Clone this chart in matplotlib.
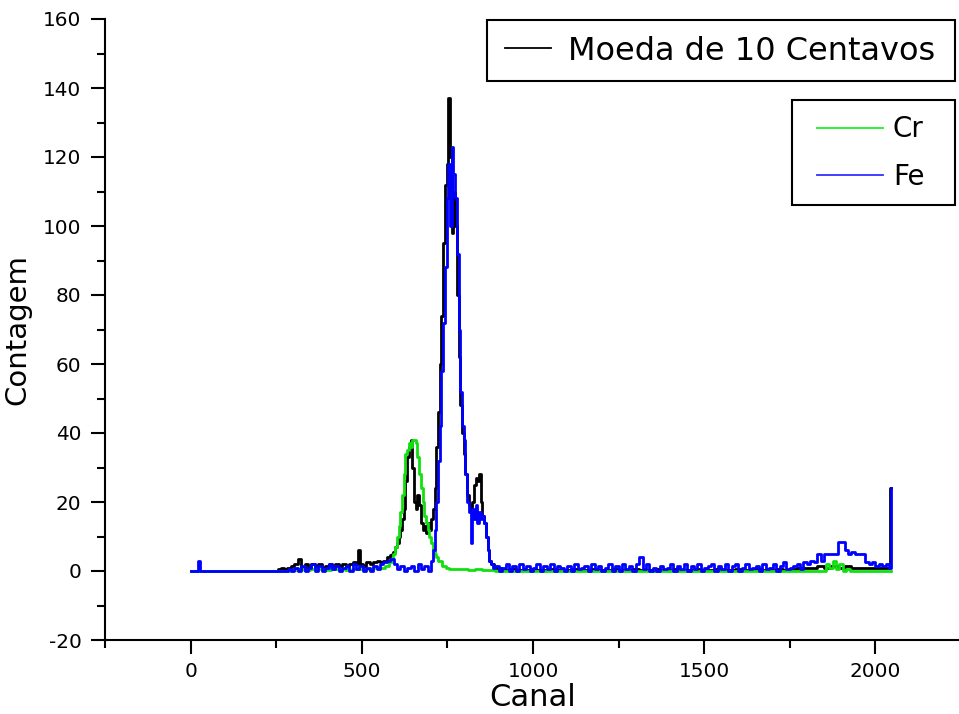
import matplotlib
matplotlib.use("Agg")
import matplotlib.pyplot as plt
from matplotlib.ticker import FixedLocator
from matplotlib.patches import Rectangle

# ---------------- data ----------------
moeda_ch = [
    0, 250, 258, 268, 278, 288, 298, 308, 318, 328,
    338, 348, 358, 368, 378, 388, 398, 408, 418, 428,
    438, 448, 458, 468, 478, 486, 492, 498, 508, 518,
    528, 538, 548, 558, 568, 578, 585, 590, 595, 600,
    605, 610, 615, 620, 625, 630, 635, 640, 645, 650,
    655, 660, 665, 670, 675, 680, 685, 690, 695, 700,
    705, 710, 715, 720, 725, 730, 735, 740, 745, 750,
    755, 760, 765, 770, 775, 780, 785, 790, 795, 800,
    805, 810, 815, 820, 825, 830, 835, 840, 845, 850,
    855, 860, 865, 870, 875, 880, 890, 900, 920, 940,
    960, 980, 1000, 1020, 1040, 1060, 1080, 1100, 1120, 1140,
    1160, 1180, 1200, 1220, 1240, 1260, 1280, 1300, 1320, 1340,
    1360, 1380, 1400, 1420, 1440, 1460, 1480, 1500, 1520, 1540,
    1560, 1580, 1600, 1620, 1640, 1660, 1680, 1700, 1720, 1740,
    1760, 1780, 1800, 1820, 1840, 1860, 1880, 1900, 1920, 1940,
    1960, 1980, 2000, 2020, 2040, 2047,
]
moeda_cnt = [
    0, 0, 0.5, 1, 0.5, 1, 1.5, 2, 3.5, 1,
    2, 1, 2, 1.5, 2, 1, 1.5, 2, 1, 2,
    1.5, 2, 1.5, 2, 2.5, 2, 6, 2, 1.5, 2.5,
    2, 2.5, 3, 2.5, 3, 4, 4.5, 5, 5.5, 7,
    8, 10, 12, 15, 18, 26, 33, 36, 38, 30,
    20, 18, 22, 19, 14, 12, 13, 11, 14, 12,
    15, 18, 24, 36, 46, 60, 74, 95, 112, 118,
    137, 120, 98, 110, 100, 80, 62, 48, 40, 34,
    28, 22, 19, 17, 20, 25, 27, 26, 28, 20,
    16, 14, 10, 6, 3, 2, 1, 1, 0.3, 0.5,
    0.3, 0.3, 0.5, 0.3, 0.3, 0.5, 0.3, 0.3, 0.5, 0.3,
    0.3, 0.5, 0.3, 0.3, 0.5, 0.3, 0.3, 0.5, 0.3, 0.3,
    0.5, 0.3, 0.3, 0.5, 0.3, 0.3, 0.5, 0.3, 0.3, 0.5,
    0.3, 0.3, 0.5, 0.3, 0.3, 0.5, 0.3, 0.3, 0.5, 0.3,
    0.5, 1, 1, 1, 1.5, 1, 1.5, 1, 1.5, 1,
    1, 1, 1, 1, 1, 24,
]

cr_ch = [
    0, 280, 300, 320, 340, 360, 380, 400, 420, 440,
    460, 480, 500, 520, 540, 560, 575, 585, 590, 595,
    600, 605, 610, 615, 620, 625, 630, 635, 640, 645,
    650, 655, 660, 665, 670, 675, 680, 685, 690, 695,
    700, 705, 710, 715, 720, 725, 730, 740, 750, 760,
    780, 800, 820, 840, 860, 880, 900, 1850, 1860, 1870,
    1880, 1890, 1900, 1910, 1920, 1930, 2047,
]
cr_cnt = [
    0, 0, 0.3, 0.5, 0.3, 0.5, 0.5, 0.3, 0.5, 0.5,
    0.3, 0.5, 0.5, 0.5, 1, 1, 1.5, 2.5, 3, 5,
    7, 10, 13, 17, 22, 28, 34, 35, 37, 36,
    38, 38, 37, 33, 28, 24, 20, 16, 14, 12,
    10, 8, 6, 5, 4, 3, 3, 1.5, 1, 0.5,
    0.5, 0.5, 0.3, 0.5, 0.3, 0.3, 0, 0, 2, 1,
    3, 0.5, 2, 0, 0.5, 0, 0,
]

fe_ch = [
    0, 20, 25, 30, 280, 288, 298, 308, 318, 328,
    338, 348, 358, 368, 378, 388, 398, 408, 418, 428,
    438, 448, 458, 468, 478, 488, 498, 508, 518, 528,
    538, 548, 558, 568, 578, 588, 598, 608, 618, 628,
    638, 648, 658, 668, 678, 688, 698, 705, 710, 715,
    720, 725, 730, 735, 740, 745, 750, 755, 760, 765,
    770, 775, 780, 785, 790, 795, 800, 805, 810, 815,
    820, 825, 830, 835, 840, 845, 850, 855, 860, 865,
    870, 875, 880, 885, 895, 905, 915, 925, 935, 945,
    955, 965, 975, 985, 995, 1005, 1015, 1025, 1035, 1045,
    1055, 1065, 1075, 1085, 1095, 1105, 1115, 1125, 1135, 1145,
    1155, 1165, 1175, 1185, 1195, 1205, 1215, 1225, 1235, 1245,
    1255, 1265, 1275, 1285, 1295, 1305, 1315, 1325, 1335, 1345,
    1355, 1365, 1375, 1385, 1395, 1405, 1415, 1425, 1435, 1445,
    1455, 1465, 1475, 1485, 1495, 1505, 1515, 1525, 1535, 1545,
    1555, 1565, 1575, 1585, 1595, 1605, 1615, 1625, 1635, 1645,
    1655, 1665, 1675, 1685, 1695, 1705, 1715, 1725, 1735, 1745,
    1755, 1765, 1775, 1785, 1795, 1805, 1815, 1825, 1835, 1845,
    1855, 1865, 1875, 1885, 1895, 1905, 1915, 1925, 1935, 1945,
    1955, 1965, 1975, 1985, 1995, 2005, 2015, 2025, 2035, 2045,
    2047,
]
fe_cnt = [
    0, 0, 3, 0, 0, 0.5, 0, 1, 0, 1.5,
    0, 1, 2, 0, 1.5, 0, 1, 2, 0.5, 1.5,
    0, 1, 1.5, 0, 2, 0.5, 1.5, 0, 1, 0,
    1.5, 0.5, 2, 2.5, 3, 3.5, 2, 0.5, 1.5, 0,
    1, 1.5, 0, 2, 0.5, 1.5, 0, 3, 6, 12,
    20, 32, 42, 58, 72, 88, 108, 118, 100, 123,
    115, 108, 92, 70, 52, 42, 38, 28, 20, 17,
    8, 18, 15, 19, 14, 17, 15, 16, 14, 10,
    6, 3, 2, 1, 1.5, 0, 1, 2, 0, 1.5,
    0, 2, 0.5, 1.5, 0, 1, 2, 0, 1.5, 0.5,
    2, 0, 1.5, 1, 0, 1.5, 0, 2, 0.5, 1,
    1.5, 0, 2, 0.5, 1.5, 0, 1, 2, 0, 1.5,
    0, 2, 0.5, 1.5, 0, 2, 4, 0.5, 2, 0,
    1, 0, 1.5, 0.5, 1, 2, 0, 1.5, 0.5, 2,
    0, 1.5, 0.5, 2, 0, 1, 1.5, 2, 0, 1.5,
    0.5, 2, 0, 1.5, 2, 0, 1, 2, 0.5, 1,
    1.5, 0, 2, 0.5, 1, 2, 0, 1.5, 2.5, 0.5,
    1, 1.5, 2, 0.5, 2.5, 2, 3, 2.5, 5, 3,
    5, 5, 5, 5, 8.5, 8.5, 6, 5, 5.5, 5,
    5, 5, 2.5, 2, 2.5, 1.5, 2, 1.5, 2, 1,
    24,
]

labels_main = ["Moeda de 10 Centavos"]
labels_elem = ["Cr", "Fe"]
x_major = [0, 500, 1000, 1500, 2000]
x_minor = [-250, 250, 750, 1250, 1750, 2250]
y_major = [-20, 0, 20, 40, 60, 80, 100, 120, 140, 160]
y_minor = [-10, 10, 30, 50, 70, 90, 110, 130, 150]

# ---------------- figure ----------------
plt.rcParams['font.family'] = ['DejaVu Sans']
plt.rcParams['axes.unicode_minus'] = False
fig = plt.figure(figsize=(9.59, 7.14), dpi=100)
W, H = 959.0, 714.0
ax = fig.add_axes([105 / W, 1 - 640 / H, 856 / W, 621 / H])

lw = 2.0
l_moeda, = ax.plot(moeda_ch, moeda_cnt, color='black', lw=lw, drawstyle='steps-mid')
l_cr, = ax.plot(cr_ch, cr_cnt, color='#10e010', lw=lw, drawstyle='steps-mid')
l_fe, = ax.plot(fe_ch, fe_cnt, color='#0000ff', lw=lw, drawstyle='steps-mid')

ax.set_xlim(-250, 2250)
ax.set_ylim(-20, 160)
ax.xaxis.set_major_locator(FixedLocator(x_major))
ax.xaxis.set_minor_locator(FixedLocator(x_minor))
ax.yaxis.set_major_locator(FixedLocator(y_major))
ax.yaxis.set_minor_locator(FixedLocator(y_minor))

for s in ['top', 'right']:
    ax.spines[s].set_visible(False)
for s in ['left', 'bottom']:
    ax.spines[s].set_linewidth(1.5)

ax.tick_params(which='major', direction='out', length=10, width=1.5,
               labelsize=14.4, colors='black')
ax.tick_params(axis='y', which='major', pad=7)
ax.tick_params(axis='x', which='major', pad=6)
ax.tick_params(which='minor', direction='out', length=5.5, width=1.5)

ax.set_xlabel('Canal', fontsize=22, labelpad=1)
ax.set_ylabel('Contagem', fontsize=21, labelpad=8)

# legend frames (exact boxes)
for (x0, y0, x1, y1) in [(487, 20, 955, 81), (792, 100, 955, 205)]:
    r = Rectangle((x0 / W, 1 - y1 / H), (x1 - x0) / W, (y1 - y0) / H,
                  transform=fig.transFigure, facecolor='white', edgecolor='black',
                  lw=1.5, clip_on=False, zorder=4)
    ax.add_patch(r)

leg1 = ax.legend([l_moeda], labels_main, loc='center left',
                 bbox_to_anchor=(505 / W, 1 - 51 / H), bbox_transform=fig.transFigure,
                 fontsize=23, frameon=False, handlelength=1.45, handletextpad=0.52,
                 borderpad=0, borderaxespad=0)
for h in leg1.legend_handles:
    h.set_linewidth(1.3)
ax.add_artist(leg1)

leg2 = ax.legend([l_cr, l_fe], labels_elem, loc='center left',
                 bbox_to_anchor=(817 / W, 1 - 153 / H), bbox_transform=fig.transFigure,
                 fontsize=20, frameon=False, handlelength=2.37, handletextpad=0.36,
                 labelspacing=0.7, borderpad=0, borderaxespad=0)
leg2.legend_handles[0].set_color('#22ee22')
leg2.legend_handles[1].set_color('#3030ff')
for h in leg2.legend_handles:
    h.set_linewidth(1.3)

fig.savefig('out.png', dpi=100)
